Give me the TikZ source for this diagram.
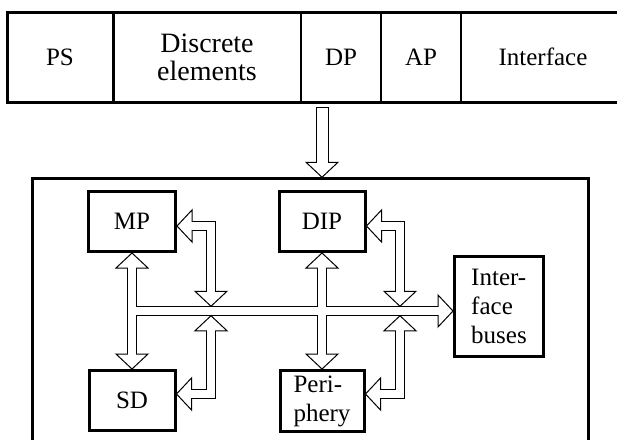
\documentclass[tikz,border=0pt]{standalone}
\usepackage{fontspec}
\setmainfont{Liberation Serif}
\usetikzlibrary{calc}

\tikzset{
	cell/.style={draw, line width=1pt, minimum height=89pt, inner sep=0pt, align=center},
	unit/.style={draw, line width=3pt, inner sep=0pt, align=center},
	pipeout/.style={line width=9.5pt, draw=black, line join=miter},
	pipein/.style={line width=7.5pt, draw=white, line join=miter},
	headline/.style={line width=1pt, fill=white, line join=miter},
}
% hollow arrow head, tip at #1, pointing at angle #2
\def\hollowhead(#1)(#2){\draw[headline, shift={(#1)}, rotate=#2] (0,0) -- (-15,16) -- (-15,-16) -- cycle;}
% all bus pipes, style #1, ends pulled back by #2 from the tips
\def\pipes#1#2{
	\draw[#1] ($(MP.south)+(0,#2)$) -- ($(SD.north)+(0,-#2)$);
	\draw[#1] ($(DIP.south)+(0,#2)$) -- ($(Per.north)+(0,-#2)$);
	\draw[#1] (MP.south |- busy) -- ($(IB.west |- busy)+(-#2,0)$);
	\draw[#1] ($(MP.east |- topy)+(#2,0)$) -- (lcol |- topy) -- ($(lcol |- bustop)+(0,-#2)$);
	\draw[#1] ($(lcol |- busbot)+(0,#2)$) -- (lcol |- boty) -- ($(SD.east |- boty)+(#2,0)$);
	\draw[#1] ($(DIP.east |- topy)+(#2,0)$) -- (rcol |- topy) -- ($(rcol |- bustop)+(0,-#2)$);
	\draw[#1] ($(rcol |- busbot)+(0,#2)$) -- (rcol |- boty) -- ($(Per.east |- boty)+(#2,0)$);
}

\begin{document}
\begin{tikzpicture}[x=1pt, y=-1pt, font=\fontsize{25}{29}\selectfont]
	%%%%% START %%%%%
	\clip (0,0) rectangle (617,439);
	
	% module strip
	\node[cell, minimum width=105pt] (PS) at (60,57) {PS};
	\node[cell, minimum width=187pt, font=\fontsize{28}{28}\selectfont] (DE) at (207,57) {Discrete\\elements};
	\node[cell, minimum width=79pt] (DP) at (341,57) {DP};
	\node[cell, minimum width=79pt] (AP) at (421,57) {AP};
	\node[cell, minimum width=163pt] (IF) at (543,57) {Interface};
	\draw[line width=3pt] (PS.north west) rectangle (IF.south east);
	\draw[line width=3pt] (PS.north east) -- (PS.south east);
	
	% system frame and units
	\node[draw, line width=2.5pt, minimum width=556pt, minimum height=283pt] (sys) at (310.5,320) {};
	\node[unit, minimum width=87pt, minimum height=60pt] (MP) at (132,221.5) {MP};
	\node[unit, minimum width=86pt, minimum height=60pt] (SD) at (132,400.5) {SD};
	\node[unit, minimum width=86pt, minimum height=60pt] (DIP) at (322,221.5) {DIP};
	\node[unit, minimum width=84pt, minimum height=61pt, align=left] (Per) at (322,401) {Peri-\\phery};
	\node[unit, minimum width=89pt, minimum height=100pt, align=left] (IB) at (499,306.5) {Inter-\\face\\buses};
	
	\coordinate (busy) at (0,311);
	\coordinate (bustop) at (0,306.25);
	\coordinate (busbot) at (0,315.75);
	\coordinate (topy) at (0,226);
	\coordinate (boty) at (0,394);
	\coordinate (lcol) at (211,0);
	\coordinate (rcol) at (400,0);
	
	% outer walls first
	\pipes{pipeout}{15}
	\draw[pipeout, line width=13pt] ($(DP.south -| DIP)+(0,5)$) -- ($(sys.north -| DIP)+(0,-15)$);
	
	% heads
	\hollowhead(sys.north -| DIP)(-90)
	\hollowhead(MP.south)(90)
	\hollowhead(SD.north)(-90)
	\hollowhead(DIP.south)(90)
	\hollowhead(Per.north)(-90)
	\hollowhead(IB.west |- busy)(0)
	\hollowhead(MP.east |- topy)(180)
	\hollowhead(lcol |- bustop)(-90)
	\hollowhead(lcol |- busbot)(90)
	\hollowhead(SD.east |- boty)(180)
	\hollowhead(DIP.east |- topy)(180)
	\hollowhead(rcol |- bustop)(-90)
	\hollowhead(rcol |- busbot)(90)
	\hollowhead(Per.east |- boty)(180)
	
	% hollow out the pipes
	\pipes{pipein}{12}
	\draw[pipein, line width=11pt] ($(DP.south -| DIP)+(0,6)$) -- ($(sys.north -| DIP)+(0,-12)$);
	
	%%%%% END %%%%%
\end{tikzpicture}
\end{document}
